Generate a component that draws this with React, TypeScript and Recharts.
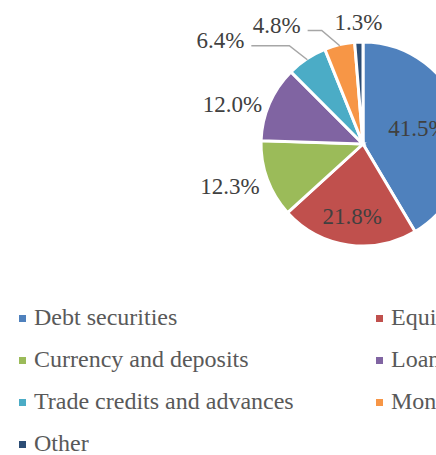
import { PieChart, Pie, Cell, Legend } from "recharts";

const CATEGORIES = [
  "Debt securities",
  "Equity and investment fund shares",
  "Currency and deposits",
  "Loans",
  "Trade credits and advances",
  "Monetary gold and SDRs",
  "Other",
];
const SHARES = [41.5, 21.8, 12.3, 12.0, 6.4, 4.8, 1.3];
const COLORS = ["#4F81BD", "#C0504D", "#9BBB59", "#8064A2", "#4BACC6", "#F79646", "#2C4D75"];

// excel "best fit" label placement, per slice
const LABEL_MODE = ["inside", "inside", "outside", "outside", "leader", "leader", "outside"];
const LEADER_SHIFT = [0, 0, 0, 0, -82, -61, 0];

const FONT = "Liberation Serif, Tinos, Times New Roman, Times, DejaVu Serif, Noto Serif, serif";
const LABEL_FS = 23;
const RAD = Math.PI / 180;

const data = CATEGORIES.map((name, i) => ({ name, value: SHARES[i] }));

function textWidth(s: string) {
  let w = 0;
  for (const ch of s) w += ch === "." ? 0.25 : ch === "%" ? 0.833 : 0.5;
  return w * LABEL_FS;
}

function renderLabel(p: any) {
  const { cx, cy, midAngle, outerRadius, index, value } = p;
  const dx = Math.cos(-midAngle * RAD);
  const dy = Math.sin(-midAngle * RAD);
  const text = `${Number(value).toFixed(1)}%`;
  const w = textWidth(text);
  const h = LABEL_FS;
  const mode = LABEL_MODE[index];
  let x: number;
  let y: number;
  if (mode === "inside") {
    const proj = (Math.abs(dx) * w) / 2 + (Math.abs(dy) * h) / 2;
    const d = outerRadius * 0.87 - proj;
    x = cx + dx * d;
    y = cy + dy * d;
  } else {
    const px = cx + dx * (outerRadius + 8);
    const py = cy + dy * (outerRadius + 8);
    if (Math.abs(dx) > 0.7) {
      x = px + (Math.sign(dx) * w) / 2;
      y = py + 4;
    } else {
      x = px;
      y = py + (Math.sign(dy) * h) / 2;
    }
    x += LEADER_SHIFT[index];
  }

  let line = null;
  if (mode === "leader") {
    const ex = cx + dx * (outerRadius - 1);
    const ey = cy + dy * (outerRadius - 1);
    const ly = y + 5;
    const pts = `${x + w / 2 + 7},${ly} ${ex - 18},${ly} ${ex},${ey}`;
    line = <polyline points={pts} fill="none" stroke="#A6A6A6" strokeWidth={1.5} />;
  }

  return (
    <g key={`lbl-${index}`}>
      {line}
      <text
        x={x}
        y={y}
        textAnchor="middle"
        dominantBaseline="central"
        fill="#404040"
        fontSize={LABEL_FS}
        style={{ fontFamily: FONT }}
      >
        {text}
      </text>
    </g>
  );
}

function renderLegend() {
  return (
    <div
      style={{
        display: "grid",
        gridTemplateColumns: "357px 357px",
        fontFamily: FONT,
        fontSize: 24,
        color: "#595959",
      }}
    >
      {CATEGORIES.map((c, i) => (
        <div
          key={c}
          style={{ display: "flex", alignItems: "center", height: 42, whiteSpace: "nowrap" }}
        >
          <span
            style={{
              display: "inline-block",
              width: 7,
              height: 7,
              background: COLORS[i],
              marginRight: 8,
              marginTop: 2,
            }}
          />
          <span style={{ lineHeight: "42px" }}>{c}</span>
        </div>
      ))}
    </div>
  );
}

export default function App() {
  return (
    <div
      style={{
        position: "fixed",
        left: 0,
        top: 0,
        width: 436,
        height: 455,
        overflow: "hidden",
        background: "#fff",
        fontFamily: FONT,
      }}
    >
      <PieChart width={436} height={455} margin={{ top: 0, right: 0, bottom: 0, left: 0 }}>
        <Pie
          data={data}
          dataKey="value"
          nameKey="name"
          cx={363}
          cy={144}
          outerRadius={102}
          startAngle={90}
          endAngle={-270}
          stroke="#fff"
          strokeWidth={3}
          label={renderLabel}
          labelLine={false}
          isAnimationActive={false}
        >
          {data.map((_, i) => (
            <Cell key={i} fill={COLORS[i]} />
          ))}
        </Pie>
        <Legend
          content={renderLegend}
          wrapperStyle={{ left: 19, top: 296, width: 720, bottom: "auto" }}
        />
      </PieChart>
    </div>
  );
}
